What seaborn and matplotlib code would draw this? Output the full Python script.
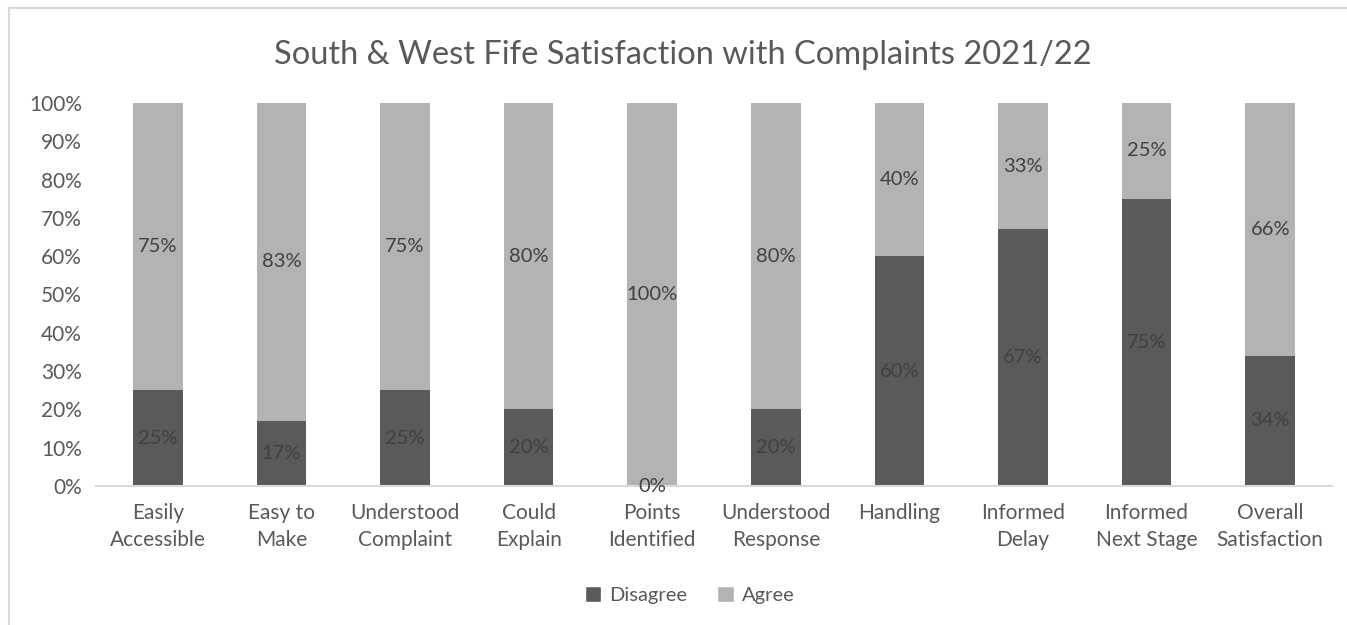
import matplotlib
matplotlib.use("Agg")
import matplotlib.pyplot as plt
from matplotlib.patches import Rectangle, Patch
import seaborn as sns
import pandas as pd

categories = ["Easily\nAccessible", "Easy to\nMake", "Understood\nComplaint", "Could\nExplain",
              "Points\nIdentified", "Understood\nResponse", "Handling", "Informed\nDelay",
              "Informed\nNext Stage", "Overall\nSatisfaction"]
disagree = [25, 17, 25, 20, 0, 20, 60, 67, 75, 34]
agree = [75, 83, 75, 80, 100, 80, 40, 33, 25, 66]
yticks = [0, 10, 20, 30, 40, 50, 60, 70, 80, 90, 100]

DARK = "#5a5a5a"
LIGHT = "#b3b3b3"
TEXT = "#595959"
LABEL = "#404040"

sns.set_theme(style="white")
plt.rcParams["font.family"] = ["Lato", "DejaVu Sans"]

df = pd.DataFrame({"category": categories, "Disagree": disagree, "Agree": agree})
df["total"] = df["Disagree"] + df["Agree"]

fig = plt.figure(figsize=(13.47, 6.25), dpi=100)
fig.patch.set_facecolor("white")
# chart frame
fig.add_artist(Rectangle((9 / 1347, -0.05), 1.2, 1 - 8 / 625 + 0.05, transform=fig.transFigure,
                         fill=False, edgecolor="#d9d9d9", linewidth=1.5))

ax = fig.add_axes([96 / 1347, 1 - 486 / 625, (1332 - 96) / 1347, (486 - 103) / 625])

sns.barplot(data=df, x="category", y="total", color=LIGHT, width=0.4, saturation=1,
            linewidth=0, ax=ax)
sns.barplot(data=df, x="category", y="Disagree", color=DARK, width=0.4, saturation=1,
            linewidth=0, ax=ax)

for i, (d, a) in enumerate(zip(disagree, agree)):
    ax.text(i, d / 2, f"{d}%", ha="center", va="center", fontsize=14.5, color=LABEL)
    ax.text(i, d + a / 2, f"{a}%", ha="center", va="center", fontsize=14.5, color=LABEL)

ax.set_xlim(-0.5, len(categories) - 0.5)
ax.set_ylim(0, 100)
ax.set_yticks(yticks)
ax.set_yticklabels([f"{v}%" for v in yticks])
ax.set_xlabel("")
ax.set_ylabel("")
ax.tick_params(axis="both", length=0, labelsize=15, labelcolor=TEXT)
ax.tick_params(axis="x", pad=12)
ax.tick_params(axis="y", pad=10)
for lbl in ax.get_xticklabels():
    lbl.set_linespacing(1.45)
for s in ["top", "right", "left"]:
    ax.spines[s].set_visible(False)
ax.spines["bottom"].set_color("#d9d9d9")
ax.spines["bottom"].set_linewidth(1.5)

fig.text(0.507, 1 - 55 / 625, "South & West Fife Satisfaction with Complaints 2021/22",
         ha="center", va="center", fontsize=23.5, color=TEXT)

handles = [Patch(facecolor=DARK, label="Disagree"), Patch(facecolor=LIGHT, label="Agree")]
fig.legend(handles=handles, loc="center", bbox_to_anchor=(0.512, 1 - 595 / 625), ncol=2,
           frameon=False, fontsize=14.5, labelcolor=TEXT, handlelength=0.8, handleheight=0.8,
           handletextpad=0.4, columnspacing=1.5)

fig.savefig("out.png", dpi=100)
